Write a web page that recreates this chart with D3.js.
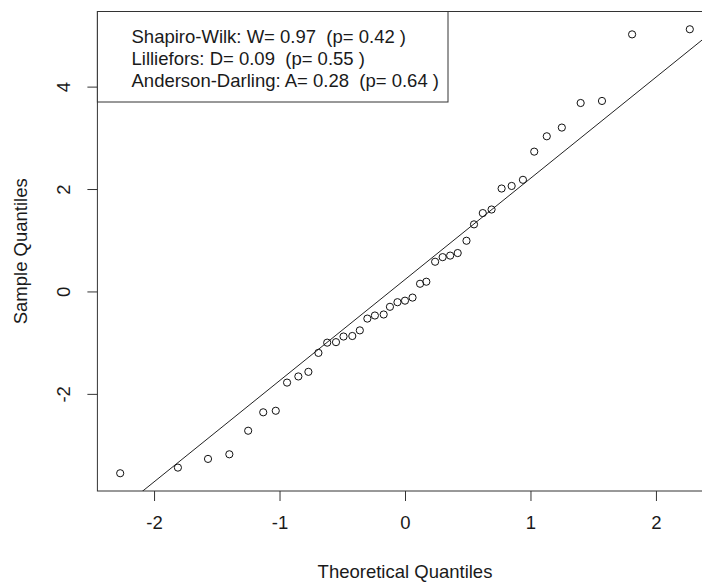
<!DOCTYPE html>
<html>
<head>
<meta charset="utf-8">
<script src="https://cdn.jsdelivr.net/npm/d3@7"></script>
<style>
  html, body { margin: 0; padding: 0; background: #fff; }
  svg { display: block; }
  text { font-family: "Liberation Sans", Arial, sans-serif; fill: #1a1a1a; white-space: pre; }
</style>
</head>
<body>
<svg id="chart" width="702" height="583"></svg>
<script>
// Theoretical quantiles
const theoretical = [-2.27, -1.81, -1.57, -1.40, -1.25, -1.13, -1.03, -0.94, -0.85, -0.77,
  -0.69, -0.62, -0.55, -0.49, -0.42, -0.36, -0.30, -0.24, -0.17, -0.12, -0.06, 0.00,
  0.06, 0.12, 0.17, 0.24, 0.30, 0.36, 0.42, 0.49, 0.55, 0.62, 0.69, 0.77, 0.85, 0.94,
  1.03, 1.13, 1.25, 1.40, 1.57, 1.81, 2.27];
// Sample quantiles
const sample = [-3.55, -3.44, -3.27, -3.18, -2.72, -2.36, -2.33, -1.78, -1.66, -1.57,
  -1.20, -1.00, -0.99, -0.88, -0.87, -0.76, -0.53, -0.47, -0.45, -0.30, -0.21, -0.18,
  -0.12, 0.15, 0.19, 0.58, 0.67, 0.70, 0.75, 0.99, 1.31, 1.53, 1.60, 2.01, 2.06, 2.18,
  2.73, 3.03, 3.20, 3.68, 3.72, 5.02, 5.12];
const xTicks = [-2, -1, 0, 1, 2];
const yTicks = [-2, 0, 2, 4];
const legendLines = [
  "Shapiro-Wilk: W= 0.97  (p= 0.42 )",
  "Lilliefors: D= 0.09  (p= 0.55 )",
  "Anderson-Darling: A= 0.28  (p= 0.64 )"
];
const xTitle = "Theoretical Quantiles";
const yTitle = "Sample Quantiles";

const svg = d3.select("#chart");
const FS = 18.5;
const box = { left: 97.4, right: 712.6, top: 11.5, bottom: 491 };

// R style axis range extension (4%)
function rExt(arr) {
  const [a, b] = d3.extent(arr);
  const d = (b - a) * 0.04;
  return [a - d, b + d];
}
const x = d3.scaleLinear().domain(rExt(theoretical)).range([box.left, box.right]);
const y = d3.scaleLinear().domain(rExt(sample)).range([box.bottom, box.top]);

svg.append("defs").append("clipPath").attr("id", "clip")
  .append("rect").attr("x", box.left).attr("y", box.top)
  .attr("width", box.right - box.left).attr("height", box.bottom - box.top);

// Axes
const xAxis = d3.axisBottom(x).tickValues(xTicks).tickSize(10).tickPadding(15)
  .tickFormat(d => d < 0 ? "-" + Math.abs(d) : String(d));
const gx = svg.append("g").attr("transform", `translate(0,${box.bottom})`).call(xAxis);
gx.select(".domain").remove();
gx.selectAll("line").attr("stroke", "#333");
gx.selectAll("text").attr("font-size", FS).attr("font-family", "Liberation Sans, Arial, sans-serif").attr("fill", "#1a1a1a");

const yAxis = d3.axisLeft(y).tickValues(yTicks).tickSize(10).tickPadding(0)
  .tickFormat(d => d < 0 ? "-" + Math.abs(d) : String(d));
const gy = svg.append("g").attr("transform", `translate(${box.left},0)`).call(yAxis);
gy.select(".domain").remove();
gy.selectAll("line").attr("stroke", "#333");
gy.selectAll("text")
  .attr("font-size", FS).attr("font-family", "Liberation Sans, Arial, sans-serif").attr("fill", "#1a1a1a")
  .attr("x", null).attr("dy", null)
  .attr("text-anchor", "middle")
  .attr("transform", "translate(-27,0) rotate(-90)");

// Plot box
svg.append("rect").attr("x", box.left).attr("y", box.top)
  .attr("width", box.right - box.left).attr("height", box.bottom - box.top)
  .attr("fill", "none").attr("stroke", "#333").attr("stroke-width", 1);

// qqline through quartiles
const sorted = sample.slice().sort(d3.ascending);
const q1 = d3.quantile(sorted, 0.25), q3 = d3.quantile(sorted, 0.75);
const z = 0.6744898;
const slope = (q3 - q1) / (2 * z);
const intercept = q1 + slope * z;
const xd = x.domain();
svg.append("line")
  .attr("clip-path", "url(#clip)")
  .attr("x1", x(xd[0])).attr("y1", y(intercept + slope * xd[0]))
  .attr("x2", x(xd[1])).attr("y2", y(intercept + slope * xd[1]))
  .attr("stroke", "#222").attr("stroke-width", 1);

// Points
svg.append("g").selectAll("circle").data(theoretical.map((t, i) => [t, sample[i]]))
  .join("circle")
  .attr("cx", d => x(d[0])).attr("cy", d => y(d[1])).attr("r", 3.6)
  .attr("fill", "none").attr("stroke", "#111").attr("stroke-width", 1);

// Legend
const lg = svg.append("g");
lg.append("rect").attr("x", box.left).attr("y", box.top)
  .attr("width", 448 - box.left).attr("height", 102 - box.top)
  .attr("fill", "#fff").attr("stroke", "#333").attr("stroke-width", 1);
lg.selectAll("text").data(legendLines).join("text")
  .attr("x", 131.5).attr("y", (d, i) => 43.3 + i * 22)
  .attr("xml:space", "preserve")
  .attr("font-size", FS).text(d => d);

// Axis titles
svg.append("text").attr("x", (box.left + box.right) / 2).attr("y", 578)
  .attr("text-anchor", "middle").attr("font-size", FS).text(xTitle);
svg.append("text").attr("transform", `translate(27,${(box.top + box.bottom) / 2}) rotate(-90)`)
  .attr("text-anchor", "middle").attr("font-size", FS).text(yTitle);
</script>
</body>
</html>
